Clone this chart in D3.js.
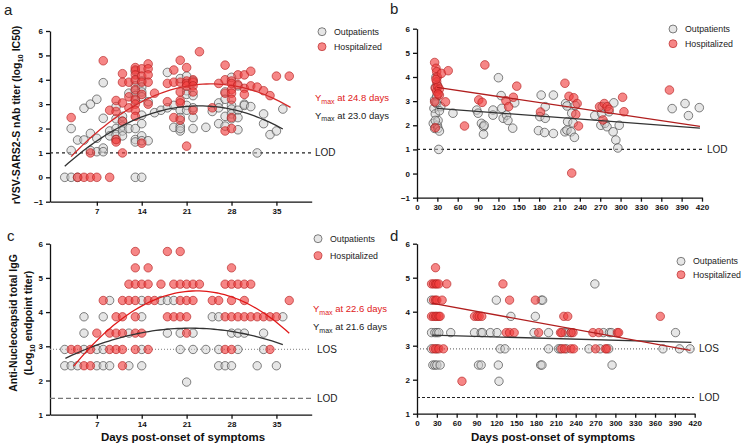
<!DOCTYPE html>
<html><head><meta charset="utf-8">
<script src="https://cdn.jsdelivr.net/npm/d3@7"></script>
<style>
body{margin:0;background:#fff;}
svg{font-family:"Liberation Sans",Arial,sans-serif;}
.tick text{font-weight:bold;font-size:8px;fill:#111;}
.domain,.tick line{stroke:#111;stroke-width:1.3px;}
</style></head>
<body><svg id="chart" width="743" height="446"></svg>
<script>
// ---------- DATA ----------
const earlyTicks = [7, 14, 21, 28, 35];
const lateTicks = d3.range(0, 421, 30);
const nabTicks = [-1, 0, 1, 2, 3, 4, 5, 6];
const igTicks = [1, 2, 3, 4, 5, 6];
const seriesNames = ["Outpatients", "Hospitalized"];
const LOD_nab = 1, LOS_ig = 2.908, LOD_ig = 1.477;

// Panel a: [day, log10 IC50]
const aOut = [[2,0],[3,0],[4,0],[13,0],[14,0],[3,2.0],[3,1.1],[4,1.53],[5,1.53],[5,2.83],[6,3.0],[6,1.8],[6,1.1],[7,1.05],[8,1.2],[8,1.05],
[7,3.2],[7,1.6],[8,3.88],[8,2.42],[9,1.9],[9,1.7],[10,2.4],[10,2.0],[10,1.75],[10,1.55],[10,2.9],[11,2.5],[11,2.3],[11,2.1],[11,1.9],[11,1.7],
[12,3.45],[12,2.0],[13,4.35],[13,3.95],[13,3.75],[13,3.55],[13,3.35],[13,3.15],[13,2.0],[13,1.55],[13,1.45],
[14,3.95],[14,3.7],[14,3.5],[14,3.3],[14,2.55],[14,2.2],[14,1.7],[14,1.5],[15,3.1],[15,1.5],[16,2.65],[17,2.75],[18,4.3],[18,2.85],[19,2.95],[19,2.05],
[20,4.05],[20,2.75],[20,2.45],[20,2.1],[20,1.9],[20,2.0],[21,4.15],[21,3.55],[21,3.4],[21,2.95],[21,2.75],[22,3.95],[22,3.35],[22,2.85],[22,2.45],[22,2.0],
[24,2.05],[25,2.7],[26,3.05],[26,2.85],[26,2.2],[27,3.5],[27,3.2],[27,2.5],[27,2.1],[28,4.1],[28,2.95],[28,2.8],[28,2.6],[28,2.4],
[29,3.75],[29,2.75],[29,2.45],[29,1.95],[30,3.0],[30,2.95],[31,2.9],[32,1.0],[33,2.6],[33,2.2],[34,1.75],[35,1.9],[36,2.8]];
const aHosp = [[3,2.45],[4,0],[5,0],[6,0],[7,0],[9,0],[6,1.0],[8,4.78],[9,2.75],[10,3.15],[10,2.7],[10,1.55],[10,1.45],
[11,4.25],[11,3.9],[11,3.05],[11,2.3],[11,1.0],[12,3.9],[12,3.3],[12,2.85],
[13,4.5],[13,4.4],[13,4.2],[13,4.0],[13,3.6],[13,3.2],[13,3.0],[13,2.75],[13,2.5],[14,4.45],[14,4.15],[14,3.9],[14,3.4],[14,1.4],
[15,4.65],[15,4.45],[15,4.2],[15,3.9],[15,3.0],[16,3.45],[18,3.85],[18,3.1],[19,4.4],[19,3.9],[19,2.45],
[20,4.8],[20,3.9],[20,3.5],[20,3.15],[20,3.05],[20,2.35],[21,4.5],[21,3.95],[21,3.85],[21,3.75],[21,1.28],
[22,4.0],[22,3.9],[22,3.75],[22,3.5],[22,2.75],[23,5.15],[25,2.85],[26,3.85],[27,4.6],[27,4.0],[27,3.45],[27,1.9],
[28,3.95],[28,3.85],[28,3.6],[28,3.45],[28,3.2],[28,2.45],[28,2.0],[29,4.2],[29,3.8],[30,4.2],[30,3.65],[30,3.4],
[31,4.35],[31,3.75],[32,3.7],[33,3.55],[34,3.35],[35,4.15],[37,4.15]];
// quadratic fits: [peak day, peak value, curvature, from, to]
const aFitOut = [23.0, 2.93, -0.00562, 2, 36];
const aFitHosp = [24.8, 3.83, -0.00627, 3, 37.2];

// Panel b: [day, log10 IC50]
const bOut = [[24,2.08],[25,2.7],[26,3.05],[26,1.87],[27,2.47],[27,3.57],[28,4.0],[29,3.2],[29,2.9],[30,2.0],[31,2.2],[31,1.87],[32,1.0],[33,1.76],[35,2.77],[28,2.95],[30,3.65],[27,2.2],[33,2.6],
[53,2.5],[88,2.63],[90,2.5],[95,2.08],[98,1.94],[98,1.63],[99,2.0],[112,2.63],[112,2.42],[120,3.97],[124,3.23],[125,2.7],[127,2.29],[132,2.42],[134,2.2],[141,1.88],[144,2.93],
[179,1.78],[181,2.36],[183,3.25],[188,1.7],[189,2.77],[189,2.29],[201,3.25],[201,1.66],[218,1.73],[219,2.9],[221,2.8],[221,1.8],[222,2.15],[227,1.73],[228,2.5],[230,2.1],[232,1.5],[233,2.82],
[262,2.4],[271,2.0],[272,2.5],[273,2.77],[277,2.08],[280,1.94],[283,2.56],[289,1.73],[290,2.93],[293,1.39],[296,1.06],[298,2.0],[376,2.69],[395,2.9],[400,2.4],[416,2.73]];
const bHosp = [[26,4.6],[28,4.36],[29,4.22],[30,4.0],[29,3.8],[27,3.53],[29,3.4],[31,3.6],[33,3.5],[33,3.25],[27,1.9],[26,2.97],[28,3.9],[31,3.3],[36,4.15],[42,2.97],[46,4.26],[70,1.97],
[91,3.05],[96,2.95],[100,4.5],[131,3.02],[135,2.77],[142,3.16],[147,3.62],[182,2.55],[218,3.74],[224,3.2],[231,3.14],[236,2.9],[238,1.97],[234,2.45],[228,0.02],
[269,2.77],[274,2.22],[276,2.9],[280,2.77],[283,2.66],[303,3.16],[305,2.56],[372,3.46]];
// linear fits: [day1, value1, day2, value2]
const bFitOut = [29.5, 2.70, 417, 1.88];
const bFitHosp = [29.5, 3.57, 417, 1.95];

// Panel c: [day, log10 endpoint titer]
const cOut = [[2,2.431],[3,2.431],[4,2.431],[7,2.431],[8,2.431],[9,2.431],[12,2.431],[14,2.431],[26,2.431],[27,2.431],[28,2.431],[32,2.431],[35,2.431],
[2,2.908],[5,2.908],[7,2.908],[8,2.908],[14,2.908],[20,2.908],[22,2.908],[24,2.908],[26,2.908],[29,2.908],[33,2.908],
[5,3.385],[12,3.385],[18,3.385],[20,3.385],[22,3.385],[28,3.385],[29,3.385],[30,3.385],[33,3.385],
[5,3.863],[8,3.863],[14,3.863],[25,3.863],[26,3.863],[36,3.863],
[9,4.340],[14,4.340],[17,4.340],[18,4.340],[19,4.340],[21,1.954]];
const cHosp = [[13,5.772],[18,5.772],[20,5.772],[13,5.294],[15,5.294],[28,5.294],
[12,4.817],[13,4.817],[14,4.817],[15,4.817],[17,4.817],[19,4.817],[20,4.817],[21,4.817],[22,4.817],[23,4.817],[27,4.817],[28,4.817],[29,4.817],[30,4.817],[31,4.817],
[8,4.340],[11,4.340],[12,4.340],[13,4.340],[15,4.340],[16,4.340],[20,4.340],[21,4.340],[22,4.340],[25,4.340],[26,4.340],[28,4.340],[30,4.340],[37,4.340],
[10,3.863],[11,3.863],[13,3.863],[18,3.863],[19,3.863],[20,3.863],[21,3.863],[27,3.863],[28,3.863],[29,3.863],[30,3.863],[31,3.863],[32,3.863],[33,3.863],[34,3.863],[35,3.863],
[7,3.385],[9,3.385],[10,3.385],[11,3.385],[13,3.385],[14,3.385],[21,3.385],
[3,2.908],[4,2.908],[6,2.908],[9,2.908],[10,2.908],[11,2.908],[13,2.908],[15,2.908],[27,2.908],[28,2.908],[34,2.908],
[5,2.431],[6,2.431],[11,2.431]];
const cFitOut = [21.6, 3.53, -0.00232, 2.1, 36];
const cFitHosp = [22.6, 4.62, -0.00597, 3.4, 37];

// Panel d: [day, log10 endpoint titer]
const dOut = [[269,4.817],[22,4.340],[120,4.340],[188,4.340],[190,4.340],[142,3.863],[179,3.863],
[22,3.385],[27,3.385],[30,3.385],[33,3.385],[51,3.385],[87,3.385],[97,3.385],[99,3.385],[111,3.385],[121,3.385],[177,3.385],[199,3.385],[224,3.385],[229,3.385],[233,3.385],[282,3.385],[291,3.385],[294,3.385],[391,3.385],
[22,2.908],[30,2.908],[126,2.908],[133,2.908],[199,2.908],[214,2.908],[217,2.908],[226,2.908],[260,2.908],[277,2.908],[290,2.908],[372,2.908],[397,2.908],[413,2.908],
[24,2.431],[27,2.431],[30,2.431],[35,2.431],[93,2.431],[97,2.431],[123,2.431],[187,2.431],[189,2.431],[295,2.431],[124,1.954]];
const dHosp = [[28,5.294],[22,4.817],[25,4.817],[28,4.817],[30,4.817],[33,4.817],[45,4.817],[130,4.817],
[25,4.340],[28,4.340],[30,4.340],[38,4.340],[140,4.340],[179,4.340],
[22,3.863],[25,3.863],[28,3.863],[30,3.863],[33,3.863],[35,3.863],[87,3.863],[91,3.863],[94,3.863],[98,3.863],[222,3.863],[228,3.863],[368,3.863],
[135,3.385],[140,3.385],[147,3.385],[184,3.385],[217,3.385],[219,3.385],[233,3.385],[236,3.385],[266,3.385],[275,3.385],[303,3.385],[305,3.385],
[25,2.908],[28,2.908],[33,2.908],[40,2.908],[219,2.908],[223,2.908],[233,2.908],[237,2.908],[270,2.908],[285,2.908],[287,2.908],[68,1.954]];
const dFitOut = [22.7, 3.31, 415, 3.10];
const dFitHosp = [22, 4.25, 413.5, 2.86];

// ---------- DRAW ----------
const svg = d3.select("#chart");
const C = {outFill:"rgba(205,205,205,0.5)", outStroke:"rgba(70,70,70,0.85)", hospFill:"rgba(240,60,60,0.62)", hospStroke:"rgba(180,30,30,0.8)"};

function panel(o){
  const g = svg.append("g");
  const x = d3.scaleLinear().domain(o.xd).range(o.xr);
  const y = d3.scaleLinear().domain(o.yd).range(o.yr);
  g.append("g").attr("transform",`translate(0,${o.yr[0]})`)
    .call(d3.axisBottom(x).tickValues(o.xt).tickSize(4).tickSizeOuter(0).tickFormat(d3.format("d")));
  g.append("g").attr("transform",`translate(${o.xr[0]},0)`)
    .call(d3.axisLeft(y).tickValues(o.yt).tickSize(4).tickSizeOuter(0).tickFormat(d3.format("d")));
  g.selectAll(".tick text").attr("font-size","8px").attr("font-weight","bold");
  o.refs.forEach(r=>{
    g.append("line").attr("x1",o.xr[0]).attr("x2",r.x2).attr("y1",y(r.v)).attr("y2",y(r.v))
      .attr("stroke",r.color).attr("stroke-width",r.w).attr("stroke-dasharray",r.dash);
    g.append("text").attr("x",r.lx).attr("y",y(r.v)).attr("dy","0.35em").attr("font-size","10px").attr("fill","#222").text(r.label);
  });
  const r = o.r;
  g.append("g").selectAll("circle").data(o.out).join("circle")
    .attr("cx",d=>x(d[0])).attr("cy",d=>y(d[1])).attr("r",r)
    .attr("fill",C.outFill).attr("stroke",C.outStroke).attr("stroke-width",0.8);
  g.append("g").selectAll("circle").data(o.hosp).join("circle")
    .attr("cx",d=>x(d[0])).attr("cy",d=>y(d[1])).attr("r",r)
    .attr("fill",C.hospFill).attr("stroke",C.hospStroke).attr("stroke-width",0.8);
  const line = d3.line().x(d=>x(d[0])).y(d=>y(d[1]));
  function fitPts(f){
    if(f.length===5){ return d3.range(f[3], f[4]+0.001, (f[4]-f[3])/60).map(t=>[t, f[1]+f[2]*(t-f[0])*(t-f[0])]); }
    return [[f[0],f[1]],[f[2],f[3]]];
  }
  g.append("path").attr("d",line(fitPts(o.fitOut))).attr("fill","none").attr("stroke","#333").attr("stroke-width",1.3);
  g.append("path").attr("d",line(fitPts(o.fitHosp))).attr("fill","none").attr("stroke",o.hospLine).attr("stroke-width",1.3);
  const L = o.leg;
  seriesNames.forEach((n,i)=>{
    const cy = L.y + i*L.dy;
    g.append("circle").attr("cx",L.x).attr("cy",cy).attr("r",4)
      .attr("fill",i?C.hospFill:C.outFill).attr("stroke",i?C.hospStroke:C.outStroke).attr("stroke-width",0.8);
    g.append("text").attr("x",L.x+12).attr("y",cy).attr("dy","0.35em").attr("font-size","8.8px").attr("fill","#222").text(n);
  });
  return {g,x,y};
}

function ymaxText(g, xx, yy, color, days){
  const t = g.append("text").attr("x",xx).attr("y",yy).attr("dy","0.35em").attr("font-size","9.5px").attr("fill",color);
  t.append("tspan").text("Y");
  t.append("tspan").attr("font-size","7px").attr("dy","2.5").text("max");
  t.append("tspan").attr("dy","-2.5").text(" at " + days + " days");
}

const pa = panel({xd:[-0.3,40.5], xr:[50,311.7], yd:[-1,6], yr:[201.7,31], xt:earlyTicks, yt:nabTicks, r:4.3,
  out:aOut, hosp:aHosp, fitOut:aFitOut, fitHosp:aFitHosp, hospLine:"#d42a2a",
  refs:[{v:LOD_nab, x2:311, color:"#222", w:1.2, dash:"3,3", label:"LOD", lx:315}],
  leg:{x:322, y:31.7, dy:15}});
ymaxText(pa.g, 315, 98, "#e02020", "24.8");
ymaxText(pa.g, 315, 115.5, "#222", "23.0");

panel({xd:[0,420], xr:[417,702], yd:[-1,6], yr:[197.7,28.7], xt:lateTicks, yt:nabTicks, r:4.3,
  out:bOut, hosp:bHosp, fitOut:bFitOut, fitHosp:bFitHosp, hospLine:"#b01e1e",
  refs:[{v:LOD_nab, x2:703, color:"#222", w:1.2, dash:"3,3", label:"LOD", lx:707}],
  leg:{x:673, y:29, dy:14.7}});

const pc = panel({xd:[-0.3,40.5], xr:[50,311.7], yd:[1,6], yr:[414.7,243.7], xt:earlyTicks, yt:igTicks, r:4.2,
  out:cOut, hosp:cHosp, fitOut:cFitOut, fitHosp:cFitHosp, hospLine:"#e01818",
  refs:[{v:LOS_ig, x2:311, color:"#999", w:1.3, dash:"1,2", label:"LOS", lx:317},
        {v:LOD_ig, x2:311, color:"#777", w:1.3, dash:"5,3", label:"LOD", lx:317}],
  leg:{x:318, y:238.7, dy:17}});
ymaxText(pc.g, 313, 309, "#e02020", "22.6");
ymaxText(pc.g, 313, 327, "#222", "21.6");

panel({xd:[0,420], xr:[417,694.7], yd:[1,6], yr:[413.7,243.7], xt:lateTicks, yt:igTicks, r:4.2,
  out:dOut, hosp:dHosp, fitOut:dFitOut, fitHosp:dFitHosp, hospLine:"#b01e1e",
  refs:[{v:LOS_ig, x2:694, color:"#777", w:1.2, dash:"1,2", label:"LOS", lx:699},
        {v:LOD_ig, x2:694, color:"#222", w:1.1, dash:"3,2", label:"LOD", lx:699}],
  leg:{x:681, y:261.3, dy:13.4}});

[["a",4,15],["b",390,14],["c",7,241],["d",390,241]].forEach(p=>{
  svg.append("text").attr("x",p[1]).attr("y",p[2]).attr("font-size","15px").attr("fill","#222").text(p[0]);
});

const ya = svg.append("text").attr("transform","translate(16,115) rotate(-90)").attr("text-anchor","middle")
  .attr("dy","0.35em").attr("font-size","10.5px").attr("font-weight","bold").attr("fill","#111");
ya.append("tspan").text("rVSV-SARS2-S nAb titer (log");
ya.append("tspan").attr("font-size","7.5px").attr("dy","3").text("10");
ya.append("tspan").attr("dy","-3").text(" IC50)");

svg.append("text").attr("transform","translate(13,323) rotate(-90)").attr("text-anchor","middle")
  .attr("dy","0.35em").attr("font-size","10.5px").attr("font-weight","bold").attr("fill","#111").text("Anti-Nucleocapsid total IgG");
const yc = svg.append("text").attr("transform","translate(28,323) rotate(-90)").attr("text-anchor","middle")
  .attr("dy","0.35em").attr("font-size","10.5px").attr("font-weight","bold").attr("fill","#111");
yc.append("tspan").text("(Log");
yc.append("tspan").attr("font-size","7.5px").attr("dy","3").text("10");
yc.append("tspan").attr("dy","-3").text(" endpoint titer)");

[[183,441],[553,441]].forEach(p=>{
  svg.append("text").attr("x",p[0]).attr("y",p[1]).attr("text-anchor","middle").attr("font-size","11.5px")
    .attr("font-weight","bold").attr("fill","#111").text("Days post-onset of symptoms");
});
</script></body></html>
